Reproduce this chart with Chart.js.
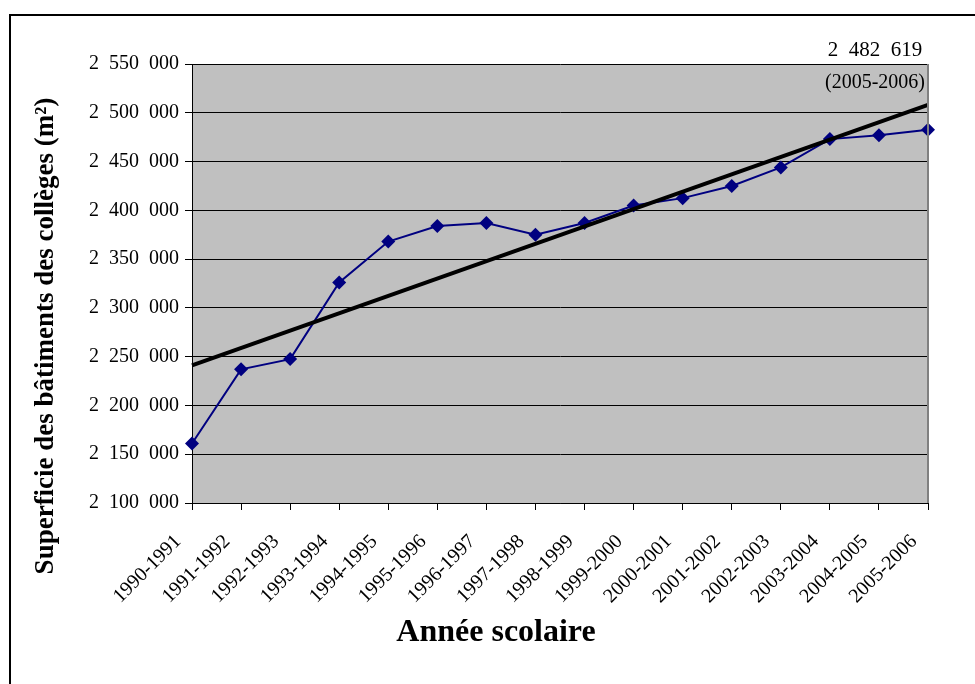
<!DOCTYPE html>
<html>
<head>
<meta charset="utf-8">
<title>Superficie des bâtiments des collèges</title>
<script src="https://cdn.jsdelivr.net/npm/chart.js"></script>
<style>
  html, body { margin: 0; padding: 0; background: #fff; }
  #wrap { position: relative; width: 975px; height: 684px; }
</style>
</head>
<body>
<div id="wrap"><canvas id="surfChart" width="975" height="684"></canvas></div>
<script>
// school years (x axis)
var annees = ['1990-1991', '1991-1992', '1992-1993', '1993-1994', '1994-1995', '1995-1996',
  '1996-1997', '1997-1998', '1998-1999', '1999-2000', '2000-2001', '2001-2002',
  '2002-2003', '2003-2004', '2004-2005', '2005-2006'];

// surface in m2 (last one is labelled)
var superficie = [2161000, 2237000, 2247500, 2326000, 2368000, 2384000,
  2387000, 2375000, 2387000, 2405000, 2412500, 2425000,
  2444000, 2473000, 2477000, 2482619];

// linear trend, ends
var tendance = [2241000, null, null, null, null, null, null, null,
  null, null, null, null, null, null, null, 2508000];

var yMin = 2100000, yMax = 2550000, yStep = 50000;

var titreX = 'Année scolaire';
var titreY = 'Superficie des bâtiments des collèges (m²)';

function fmt(v) {
  return String(Math.round(v)).replace(/\B(?=(\d{3})+(?!\d))/g, '  ');
}

var serif = "'Liberation Serif', 'Times New Roman', serif";

var fondGris = {
  id: 'fondGris',
  beforeDraw: function(chart) {
    var a = chart.chartArea, c = chart.ctx;
    c.save();
    c.fillStyle = '#c0c0c0';
    c.fillRect(a.left, a.top, a.right - a.left, a.bottom - a.top);
    c.restore();
  },
  afterDraw: function(chart) {
    var a = chart.chartArea, c = chart.ctx;
    c.save();
    // plot border, right side gray
    c.strokeStyle = '#808080';
    c.lineWidth = 2;
    c.beginPath();
    c.moveTo(a.right, a.top);
    c.lineTo(a.right, a.bottom);
    c.stroke();
    // outer frame
    c.strokeStyle = '#000';
    c.lineWidth = 2;
    c.strokeRect(10, 15, 2000, 2000);
    // axis titles, centred on the whole frame like the original
    c.fillStyle = '#000';
    c.textAlign = 'center';
    c.textBaseline = 'middle';
    c.font = 'bold 32px ' + serif;
    c.fillText(titreX, 496, 633);
    c.save();
    c.translate(46, 336);
    c.rotate(-Math.PI / 2);
    c.font = 'bold 27px ' + serif;
    c.fillText(titreY, 0, 0);
    c.restore();
    // label of last point
    var meta = chart.getDatasetMeta(0);
    var last = meta.data[meta.data.length - 1];
    c.font = '21px ' + serif;
    c.fillText(fmt(superficie[superficie.length - 1]), last.x - 53, last.y - 79);
    c.font = '20px ' + serif;
    c.fillText('(' + annees[annees.length - 1] + ')', last.x - 53, last.y - 47);
    c.restore();
  }
};

var ctx = document.getElementById('surfChart').getContext('2d');
var chart = new Chart(ctx, {
  type: 'line',
  data: {
    labels: annees,
    datasets: [{
      label: 'Superficie',
      data: superficie,
      borderColor: '#000080',
      backgroundColor: '#000080',
      borderWidth: 2,
      pointStyle: 'rectRot',
      pointRadius: 7,
      pointBorderWidth: 0,
      tension: 0,
      order: 2
    }, {
      label: 'Tendance',
      data: tendance,
      borderColor: '#000',
      borderWidth: 4,
      pointRadius: 0,
      spanGaps: true,
      order: 1
    }]
  },
  options: {
    responsive: false,
    animation: false,
    layout: { padding: { left: 28, right: 47, top: 64, bottom: 30 } },
    plugins: {
      legend: { display: false },
      tooltip: { enabled: false }
    },
    scales: {
      x: {
        offset: false,
        afterFit: function(s) { s.height = 151; },
        grid: { drawOnChartArea: false, drawTicks: true, tickLength: 7, color: '#000', lineWidth: 1 },
        border: { color: '#000', width: 1 },
        ticks: {
          autoSkip: false, maxRotation: 45, minRotation: 45, padding: 20, labelOffset: -14,
          color: '#000', font: { family: serif, size: 20 }
        }
      },
      y: {
        min: yMin, max: yMax,
        afterFit: function(s) { s.width = 164; },
        grid: { color: '#000', lineWidth: 1, tickLength: 7 },
        border: { color: '#000', width: 1 },
        ticks: {
          stepSize: yStep, padding: 6, color: '#000',
          font: { family: serif, size: 20 },
          callback: function(v) { return fmt(v); }
        }
      }
    }
  },
  plugins: [fondGris]
});
</script>
</body>
</html>
